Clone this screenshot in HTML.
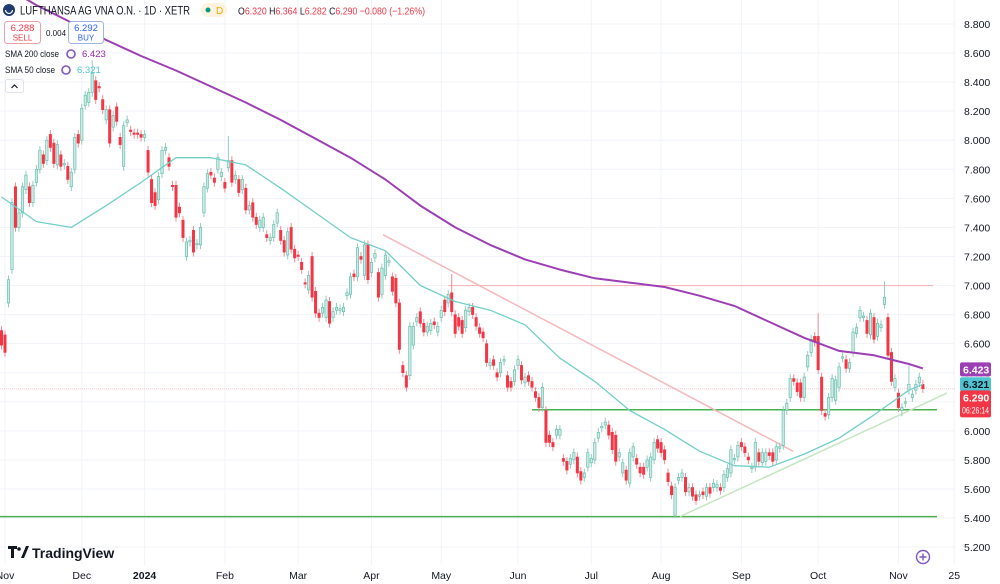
<!DOCTYPE html>
<html><head><meta charset="utf-8"><style>
html,body{margin:0;padding:0;background:#fff;overflow:hidden}
svg{display:block;font-family:"Liberation Sans",sans-serif}
</style></head><body>
<svg id="chart" width="1000" height="584" viewBox="0 0 1000 584">
<g id="grid"></g>
<g id="drawings"></g>
<g id="candles"></g>
<g id="smas"></g>
<g id="yaxis"></g>
<g id="xaxis"></g>
<g>
  <circle cx="9" cy="10" r="6" fill="#1e3a6e"/>
  <path d="M5.5 10 a3.5 3.5 0 0 0 7 0" stroke="#fff" stroke-width="1.2" fill="none"/>
  <text x="20" y="14.5" font-size="12" fill="#131722" textLength="170" lengthAdjust="spacingAndGlyphs">LUFTHANSA AG VNA O.N. · 1D · XETR</text>
  <rect x="201" y="3" width="26" height="14" rx="7" fill="#fdf3e0"/>
  <circle cx="208" cy="10" r="2.5" fill="#089981"/>
  <text x="216" y="14" font-size="10" fill="#f7a600">D</text>
  <text x="238" y="14.5" font-size="10.5" fill="#f23645" textLength="187" lengthAdjust="spacingAndGlyphs"><tspan fill="#131722">O</tspan>6.320 <tspan fill="#131722">H</tspan>6.364 <tspan fill="#131722">L</tspan>6.282 <tspan fill="#131722">C</tspan>6.290 −0.080 (−1.26%)</text>
  <g>
    <rect x="4.5" y="21.5" width="36" height="22" rx="3" fill="#fff" stroke="#e9a3a8"/>
    <text x="22.5" y="31" font-size="9.5" fill="#f23645" text-anchor="middle">6.288</text>
    <text x="22.5" y="40.5" font-size="8" fill="#f23645" text-anchor="middle">SELL</text>
  </g>
  <text x="46" y="36" font-size="8" fill="#131722">0.004</text>
  <g>
    <rect x="68.5" y="21.5" width="35" height="22" rx="3" fill="#fff" stroke="#9fb4e0"/>
    <text x="86" y="31" font-size="9.5" fill="#2962ff" text-anchor="middle">6.292</text>
    <text x="86" y="40.5" font-size="8" fill="#2962ff" text-anchor="middle">BUY</text>
  </g>
  <text x="5" y="57" font-size="9.5" fill="#131722" textLength="54" lengthAdjust="spacingAndGlyphs">SMA 200 close</text>
  <circle cx="71" cy="54" r="4" fill="none" stroke="#7e57c2" stroke-width="1.6"/>
  <text x="82" y="57" font-size="9.5" fill="#9c27b0">6.423</text>
  <text x="5" y="73" font-size="9.5" fill="#131722" textLength="50" lengthAdjust="spacingAndGlyphs">SMA 50 close</text>
  <circle cx="66" cy="70" r="4" fill="none" stroke="#7e57c2" stroke-width="1.6"/>
  <text x="77" y="73" font-size="9.5" fill="#4dc4d0">6.321</text>
  <g>
    <rect x="5.5" y="79.5" width="18" height="13" rx="2" fill="#fff" stroke="#e0e3eb"/>
    <path d="M11.5 88 l3 -3 l3 3" stroke="#131722" fill="none" stroke-width="1.2"/>
  </g>
</g>
<g>
  <path d="M8 546 h9 v3 h-3 v9 h-3 v-9 h-3z M21 558 l5 -12 h3 l-5 12z" fill="#131722"/>
  <circle cx="19" cy="549" r="1.8" fill="#131722"/>
  <text x="32" y="558" font-size="14" font-weight="bold" fill="#131722">TradingView</text>
</g>
<g>
  <circle cx="923" cy="557" r="6.5" fill="none" stroke="#7e57c2" stroke-width="1.4"/>
  <path d="M919.5 557 h7 M923 553.5 v7" stroke="#7e57c2" stroke-width="1.4"/>
</g>
</svg>
<script>
const opens = [6.69,6.66,6.88,7.11,7.68,7.40,7.50,7.66,7.68,7.57,7.71,7.80,7.90,7.86,8.04,7.98,7.83,7.90,7.83,7.82,7.68,7.80,8.04,8.00,8.24,8.26,8.33,8.41,8.37,8.28,8.14,8.21,8.09,8.23,8.02,7.82,8.12,8.07,8.05,8.05,8.04,8.02,7.93,7.73,7.64,7.59,7.77,7.93,7.88,7.69,7.69,7.54,7.45,7.20,7.30,
7.38,7.28,7.28,7.50,7.67,7.78,7.74,7.80,7.75,7.71,7.81,7.86,7.73,7.73,7.66,7.67,7.52,7.57,7.47,7.40,7.40,7.35,7.31,7.33,7.43,7.38,7.31,7.21,7.40,7.25,7.21,7.16,7.02,6.97,7.20,6.96,6.81,6.81,6.78,6.89,6.78,6.83,6.83,6.82,6.93,6.94,7.08,7.06,7.20,7.07,7.28,7.09,7.19,7.09,6.94,7.07,7.16,7.06,7.05,6.88,6.45,6.38,6.38,
6.59,6.75,6.82,6.74,6.68,6.69,6.75,6.68,6.78,6.90,6.88,6.95,6.80,6.78,6.76,6.71,6.82,6.85,6.78,6.71,6.68,6.60,6.45,6.49,6.40,6.40,6.48,6.38,6.34,6.34,6.45,6.45,6.33,6.38,6.34,6.27,6.23,6.16,6.14,5.97,5.92,5.97,5.97,5.81,5.79,5.77,5.80,5.82,5.72,5.68,5.75,5.78,5.80,5.95,6.02,6.04,6.04,
5.99,5.97,5.82,5.71,5.73,5.64,5.82,5.81,5.75,5.75,5.75,5.68,5.80,5.94,5.92,5.87,5.71,5.62,5.42,5.66,5.68,5.68,5.58,5.61,5.56,5.55,5.58,5.55,5.61,5.61,5.61,5.61,5.61,5.68,5.71,5.80,5.82,5.92,5.89,5.82,5.74,5.75,5.85,5.78,5.79,5.85,5.85,5.80,5.88,5.90,6.14,6.23,6.36,6.33,6.33,6.23,6.44,6.54,6.65,6.65,6.37,6.12,6.11,6.23,6.21,6.30,6.50,6.49,6.43,6.54,6.67,6.78,6.78,6.76,6.66,6.78,6.65,6.71,6.87,6.78,6.54,6.30,6.26,6.14,6.19,6.28,6.23,6.28,6.33,6.32];
const closes = [6.59,6.54,7.04,7.57,7.40,7.50,7.68,7.76,7.57,7.69,7.80,7.93,7.84,8.00,7.95,7.84,7.97,7.82,7.84,7.73,7.78,8.02,7.98,8.22,8.31,8.33,8.46,8.28,8.36,8.21,8.21,7.98,8.17,8.13,7.97,8.10,8.14,8.06,8.04,8.04,8.02,8.04,7.78,7.57,7.55,7.75,7.93,7.95,7.82,7.68,7.47,7.50,7.33,7.30,7.31,
7.23,7.29,7.40,7.68,7.77,7.76,7.71,7.88,7.78,7.67,7.86,7.71,7.76,7.64,7.73,7.52,7.55,7.47,7.42,7.45,7.47,7.33,7.33,7.42,7.50,7.31,7.23,7.37,7.25,7.19,7.20,7.11,7.01,7.07,6.92,6.81,6.78,6.85,6.90,6.74,6.82,6.85,6.84,6.85,6.95,7.06,7.06,7.26,7.18,7.28,7.04,7.16,7.22,6.92,7.12,7.21,7.17,6.96,6.88,6.56,6.40,6.30,6.72,
6.72,6.78,6.74,6.68,6.72,6.74,6.73,6.72,6.83,6.82,6.94,6.82,6.67,6.72,6.67,6.83,6.85,6.80,6.72,6.67,6.64,6.47,6.47,6.45,6.37,6.47,6.49,6.30,6.30,6.42,6.49,6.35,6.37,6.34,6.30,6.23,6.16,6.30,5.92,5.92,5.89,6.01,6.01,5.79,5.73,5.81,5.85,5.71,5.66,5.71,5.85,5.81,5.92,5.99,6.03,6.06,5.97,
5.87,5.79,5.85,5.78,5.66,5.85,5.89,5.77,5.71,5.70,5.80,5.82,5.92,5.88,5.85,5.80,5.65,5.56,5.61,5.68,5.71,5.58,5.61,5.55,5.52,5.56,5.56,5.61,5.57,5.64,5.63,5.59,5.70,5.74,5.87,5.81,5.90,5.89,5.85,5.80,5.75,5.92,5.79,5.85,5.85,5.83,5.79,5.89,5.89,6.14,6.19,6.36,6.34,6.27,6.23,6.37,6.52,6.63,6.61,6.42,6.14,6.10,6.23,6.36,6.35,6.44,6.51,6.43,6.47,6.68,6.71,6.83,6.79,6.67,6.81,6.63,6.74,6.73,6.92,6.52,6.34,6.36,6.16,6.16,6.20,6.32,6.25,6.32,6.37,6.29];
const wickIdx = [26,65,129,193,234,236,253,258,260];
const wickHigh = [8.55,8.03,7.08,null,6.81,null,7.03,null,6.45];
const wickLow = [null,null,null,5.40,null,6.07,null,6.10,null];
const smaIdx = [0,10,20,30,40,50,60,70,80,90,100,110,120,130,140,150,160,170,180,190,200,210,220,230,240,250,260,264];
const sma200 = [9.07,8.93,8.81,8.69,8.58,8.48,8.37,8.26,8.14,8.01,7.88,7.73,7.55,7.40,7.28,7.18,7.11,7.05,7.02,6.99,6.93,6.86,6.75,6.64,6.55,6.52,6.46,6.43];
const sma50 = [7.61,7.44,7.40,7.55,7.71,7.88,7.88,7.83,7.67,7.50,7.33,7.24,7.00,6.89,6.83,6.73,6.50,6.34,6.14,6.01,5.86,5.76,5.75,5.84,5.95,6.11,6.28,6.32];
const priceTicks = ["8.800","8.600","8.400","8.200","8.000","7.800","7.600","7.400","7.200","7.000","6.800","6.600","6.400","6.200","6.000","5.800","5.600","5.400","5.200"];
const monthLabels = ["Nov","Dec","2024","Feb","Mar","Apr","May","Jun","Jul","Aug","Sep","Oct","Nov","25"];
const monthIdx = [1,23,41,64,85,106,126,148,169,189,212,234,257,273];

const NS='http://www.w3.org/2000/svg';
const Y=p=>24+(8.8-p)*145.3;
const X=i=>1.5+i*3.49;
function mk(tag,attrs,parent){const e=document.createElementNS(NS,tag);for(const k in attrs)e.setAttribute(k,attrs[k]);parent.appendChild(e);return e;}
const grid=document.getElementById('grid');
priceTicks.forEach(t=>{const y=Y(parseFloat(t));const l=mk('line',{x1:0,x2:955,y1:y,y2:y,stroke:'#f0f3fa','stroke-width':1},grid);

});
monthIdx.forEach(i=>{const x=X(i);const l=mk('line',{x1:x,x2:x,y1:0,y2:565,stroke:'#f0f3fa','stroke-width':1},grid);

});

const dr=document.getElementById('drawings');
function line(a,name){const l=mk('line',a,dr);

}
line({x1:0,x2:955,y1:Y(6.29),y2:Y(6.29),stroke:'#f7c9cd','stroke-width':1,'stroke-dasharray':'1 1'},'current-price-line');
line({x1:X(128),x2:933,y1:Y(7.0),y2:Y(7.0),stroke:'#f5b8bd','stroke-width':1.2},'resistance-line-7');
line({x1:X(152),x2:937,y1:Y(6.145),y2:Y(6.145),stroke:'#4caf50','stroke-width':1.5},'support-line-6-15');
line({x1:0,x2:937,y1:Y(5.41),y2:Y(5.41),stroke:'#4caf50','stroke-width':1.5},'support-line-5-41');
line({x1:383,x2:793,y1:Y(7.35),y2:Y(5.86),stroke:'#f5b8bd','stroke-width':1.5},'downtrend-line');
line({x1:680,x2:947,y1:Y(5.41),y2:Y(6.26),stroke:'#c6e5c2','stroke-width':1.5},'uptrend-line');

const cg=document.getElementById('candles');
opens.forEach((o,i)=>{const c=closes[i];const up=c>=o;const x=X(i);
let hi=Math.max(o,c)+0.03,lo=Math.min(o,c)-0.03;const k=wickIdx.indexOf(i);
if(k>=0){if(wickHigh[k]!=null)hi=wickHigh[k];if(wickLow[k]!=null)lo=wickLow[k];}
const col=up?'#5bb8a8':'#f23645';
const w=mk('line',{x1:x,x2:x,y1:Y(hi),y2:Y(lo),stroke:up?'#8fcdc1':'#f08a93','stroke-width':1},cg);


const top=Y(Math.max(o,c)),h=Math.max(1,Math.abs(Y(o)-Y(c)));
const r=mk('rect',{x:x-1.2,y:top,width:2.4,height:h,fill:up?'#c9ebe3':'#f23645',stroke:col,'stroke-width':0.6},cg);

});

const sg=document.getElementById('smas');
function sma(vals,color,name){const d=smaIdx.map((i,k)=>(k?'L':'M')+X(i).toFixed(1)+' '+Y(vals[k]).toFixed(1)).join(' ');
const p=mk('path',{d:d,fill:'none',stroke:color,'stroke-width':name==='sma200-line'?2:1.3,'stroke-linejoin':'round'},sg);

}
sma(sma200,'#9c3fb5','sma200-line');
sma(sma50,'#72cfc8','sma50-line');

const ya=document.getElementById('yaxis');
priceTicks.forEach(t=>{const tx=mk('text',{x:964,y:Y(parseFloat(t))+4,'font-size':10.5,fill:'#131722'},ya);tx.textContent=t;

});
function tag(p,txt,bg,fg,name,h){const y=Y(p);const r=mk('rect',{x:960,y:y-7,width:31,height:h||14,rx:2,fill:bg},ya);


const t=mk('text',{x:963,y:y+4,'font-size':10.5,'font-weight':'bold',fill:fg},ya);t.textContent=txt;}
tag(6.423,'6.423','#9c3fb5','#fff','sma200-price-tag');
tag(6.321,'6.321','#4dc4d0','#131722','sma50-price-tag');
tag(6.23,'6.290','#f23645','#fff','last-price-tag',27);
const cd=mk('text',{x:962,y:Y(6.23)+16,'font-size':9,fill:'#fff',textLength:27,lengthAdjust:'spacingAndGlyphs'},ya);cd.textContent='06:26:14';



const xa=document.getElementById('xaxis');
monthLabels.forEach((m,k)=>{const t=mk('text',{x:X(monthIdx[k]),y:579,'font-size':10.5,fill:'#131722','text-anchor':'middle','font-weight':m==='2024'?'bold':'normal'},xa);t.textContent=m;

});
</script>
</body></html>
